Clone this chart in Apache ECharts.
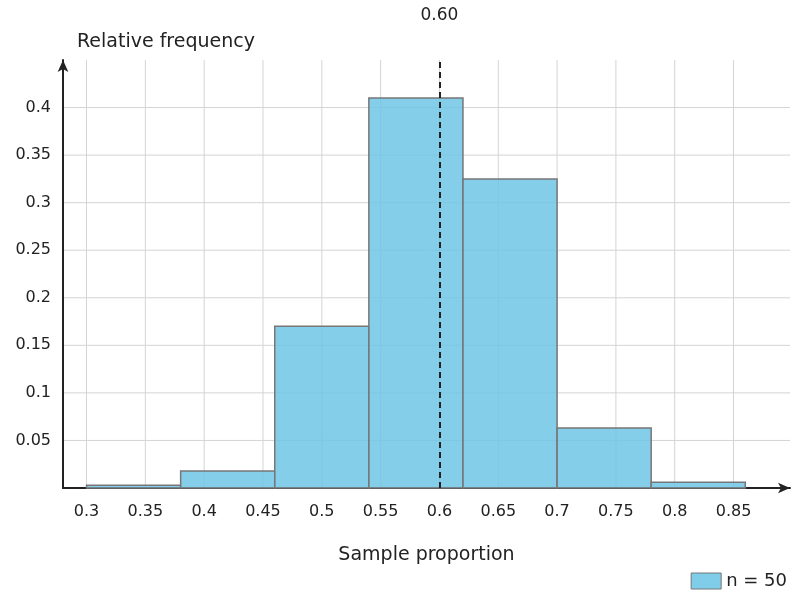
<!DOCTYPE html>
<html><head><meta charset="utf-8">
<script src="https://cdn.jsdelivr.net/npm/echarts@6/dist/echarts.min.js"></script>
<style>html,body{margin:0;padding:0;background:#fff}#c{width:796px;height:601px}</style>
</head><body><div id="c"></div>
<script>
const binStarts = [0.30, 0.38, 0.46, 0.54, 0.62, 0.70, 0.78];
const binWidth = 0.08;
const freqs = [0.003, 0.018, 0.170, 0.410, 0.325, 0.063, 0.006];
const xTicks = [0.3,0.35,0.4,0.45,0.5,0.55,0.6,0.65,0.7,0.75,0.8,0.85];
const yTicks = [0.05,0.1,0.15,0.2,0.25,0.3,0.35,0.4];
const meanValue = 0.6;
const seriesName = 'n = 50';

const data = binStarts.map((s,i)=>[s, s+binWidth, freqs[i]]);
const font = 'DejaVu Sans';
const XMIN = 0.28, XMAX = 0.898, YMAX = 0.45;
const chart = echarts.init(document.getElementById('c'));
chart.setOption({
  animation:false,
  textStyle:{fontFamily:font},
  grid:{left:63,right:6,top:60,bottom:113},
  legend:{right:4,bottom:6,itemWidth:30,itemHeight:16,textStyle:{fontSize:18,color:'#222',fontFamily:font},data:[{name:seriesName,icon:'rect',itemStyle:{color:'#7fcde9',borderColor:'#777',borderWidth:1}}]},
  xAxis:{type:'value',min:XMIN,max:XMAX,
    name:'Sample proportion',nameLocation:'middle',nameGap:58,nameTextStyle:{fontSize:19,color:'#222'},
    axisLine:{lineStyle:{color:'#222',width:2},symbol:['none','arrow'],symbolSize:[8,12]},
    axisTick:{show:false},
    axisLabel:{customValues:xTicks,fontSize:16,color:'#222',margin:16,formatter:v=>String(+v.toFixed(2))},
    splitLine:{show:false}},
  yAxis:{type:'value',min:0,max:YMAX,
    name:'Relative frequency',nameLocation:'end',nameGap:8,nameTextStyle:{fontSize:19,color:'#222',align:'left',padding:[0,0,0,14]},
    axisLine:{lineStyle:{color:'#222',width:2},symbol:['none','arrow'],symbolSize:[8,12]},
    axisTick:{show:false},
    axisLabel:{customValues:yTicks,fontSize:16,color:'#222',margin:12,formatter:v=>String(+v.toFixed(2))},
    splitLine:{show:false}},
  series:[
    {type:'custom',name:'grid',silent:true,z:0,
      data:[0],
      renderItem:(p,api)=>{
        const ch=[];
        xTicks.forEach(t=>{const a=api.coord([t,0]),b=api.coord([t,YMAX]);ch.push({type:'line',shape:{x1:a[0],y1:a[1],x2:b[0],y2:b[1]},style:{stroke:'#d4d4d4',lineWidth:1}});});
        yTicks.forEach(t=>{const a=api.coord([XMIN,t]),b=api.coord([XMAX,t]);ch.push({type:'line',shape:{x1:a[0],y1:a[1],x2:b[0],y2:b[1]},style:{stroke:'#d4d4d4',lineWidth:1}});});
        return {type:'group',children:ch};
      }},
    {type:'custom',name:seriesName,z:2,data:data,
      itemStyle:{color:'#7fcde9',borderColor:'#777',borderWidth:1},
      renderItem:(p,api)=>{
        const a=api.coord([api.value(0),0]),b=api.coord([api.value(1),api.value(2)]);
        return {type:'rect',shape:{x:a[0],y:b[1],width:b[0]-a[0],height:a[1]-b[1]},style:{fill:'rgba(110,198,230,0.85)',stroke:'#777',lineWidth:1.5}};
      },
      markLine:{silent:true,symbol:['none','none'],
        lineStyle:{color:'#222',type:[6,4],width:2},
        label:{show:true,position:'end',formatter:meanValue.toFixed(2),fontSize:17,color:'#222',distance:36},
        data:[{xAxis:meanValue}]}}
  ]
});
</script></body></html>
